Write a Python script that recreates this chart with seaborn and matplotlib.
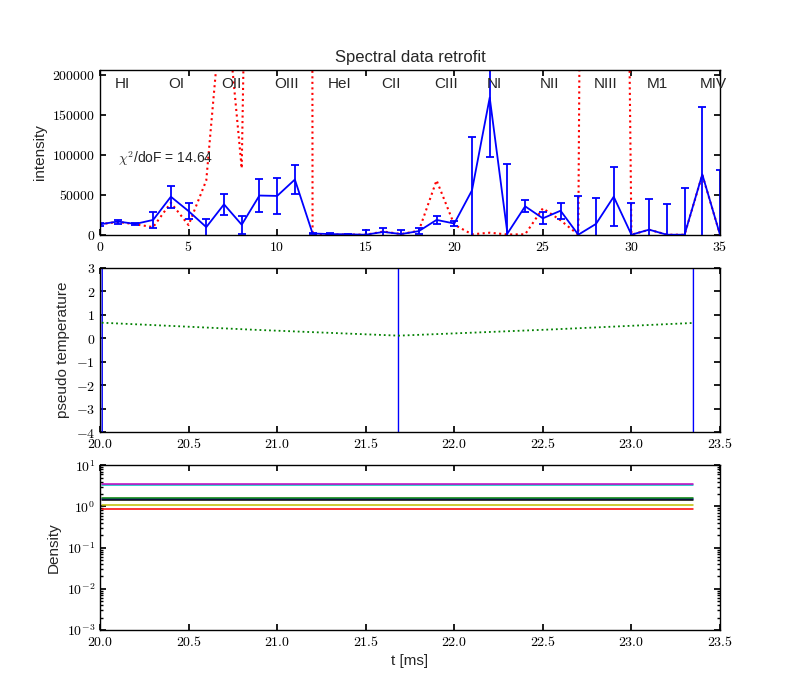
import numpy as np
import pandas as pd
import seaborn as sns
import matplotlib
matplotlib.use("Agg")
import matplotlib.pyplot as plt
from matplotlib.ticker import FuncFormatter, FixedLocator, LogLocator

# ---------------- data ----------------
line_index = list(range(36))
measured = [13000, 16500, 13500, 18500, 47500, 29500, 9500, 38000, 12500, 49000,
            48500, 69000, 1500, 800, 500, 0, 3500, 800, 4500, 18500,
            14000, 55500, 171500, 1500, 35500, 20500, 30000, 0, 13500, 47500,
            0, 6300, 0, 0, 75500, 0]
measured_err = [2000, 2500, 1500, 9500, 14000, 10000, 10500, 13000, 11000, 21000,
                22000, 18500, 1000, 800, 600, 6000, 5000, 5000, 4000, 5000,
                3000, 67000, 74000, 87000, 7500, 7300, 10000, 49000, 33000, 37000,
                40000, 38000, 38000, 59000, 84000, 81000]
model = [13000, 16000, 13000, 9500, 40000, 12000, 68000, 320000, 83000, 1.4e6,
         5e6, 2e7, 0, 300, 200, 0, 4000, 800, 5000, 68000,
         12500, 500, 2500, 300, 500, 33000, 18000, 0, 3.4e6, 2e6,
         0, 6300, 0, 0, 75000, 0]
ion_labels = ["HI", "OI", "OII", "OIII", "HeI", "CII", "CIII", "NI", "NII", "NIII", "M1", "MIV"]
ion_pos = [1, 4, 7, 10, 13, 16, 19, 22, 25, 28, 31, 34]
chi2_dof = 14.64

# pseudo temperature
t_jump = [20.005, 20.02, 21.685, 21.685, 23.35, 23.35]
T_jump = [-1e4, 1e4, 1e4, -1e4, -1e4, 1e4]
t_smooth = [20.01, 20.87, 21.685, 22.54, 23.35]
T_smooth = [0.66, 0.36, 0.11, 0.37, 0.65]

# densities
t_dens = [20.01, 21.685, 23.35]
dens_b = [1.48, 1.48, 1.48]
dens_g = [1.58, 1.58, 1.58]
dens_r = [0.87, 0.87, 0.87]
dens_c = [3.36, 3.36, 3.36]
dens_m = [3.52, 3.52, 3.52]
dens_y = [1.08, 1.08, 1.08]
dens_k = [1.40, 1.40, 1.40]

# ---------------- style ----------------
sns.set_theme(style="ticks", color_codes=False, rc={
    "axes.linewidth": 1.0,
    "axes.edgecolor": "black",
    "xtick.direction": "in", "ytick.direction": "in",
    "xtick.top": True, "ytick.right": True,
    "xtick.major.size": 4, "ytick.major.size": 4,
    "xtick.minor.size": 2, "ytick.minor.size": 2,
    "xtick.color": "black", "ytick.color": "black",
    "mathtext.fontset": "cm",
})
plt.rcParams["font.family"] = ["Liberation Sans", "DejaVu Sans"]

BLUE = (0, 0, 1)
GREEN = (0, 0.5, 0)
RED = (1, 0, 0)
CYAN = (0, 0.75, 0.75)
MAGENTA = (0.75, 0, 0.75)
YELLOW = (0.75, 0.75, 0)
BLACK = (0, 0, 0)

fig, axes = plt.subplots(3, 1, figsize=(8, 7), dpi=100)
ax1, ax2, ax3 = axes

def mt(fmt):
    return FuncFormatter(lambda v, p: "$" + fmt.format(v) + "$")

# ---------------- panel 1 ----------------
df1 = pd.DataFrame({"line": line_index, "measured": measured, "model": model})
sns.lineplot(data=df1, x="line", y="model", ax=ax1, color=RED,
             linestyle=":", linewidth=1.5, estimator=None)
sns.lineplot(data=df1, x="line", y="measured", ax=ax1, color=BLUE,
             linewidth=1.3, estimator=None)
ax1.errorbar(line_index, measured, yerr=measured_err, fmt="none", ecolor=BLUE,
             elinewidth=1.3, capsize=3, capthick=1.3)
ax1.set_xlim(0, 35)
ax1.set_ylim(0, 206000)
ax1.xaxis.set_major_locator(FixedLocator([0, 5, 10, 15, 20, 25, 30, 35]))
ax1.yaxis.set_major_locator(FixedLocator([0, 50000, 100000, 150000, 200000]))
ax1.xaxis.set_major_formatter(mt("{:g}"))
ax1.yaxis.set_major_formatter(mt("{:.0f}"))
for lab, pos in zip(ion_labels, ion_pos):
    ax1.text(pos - 0.15, 188000, lab, ha="left", va="center", fontsize=11)
ax1.text(1, 95000, r"$\chi^2$/doF = %.2f" % chi2_dof, ha="left", va="center", fontsize=10)
ax1.set_title("Spectral data retrofit", fontsize=12)
ax1.set_ylabel("intensity", fontsize=11)
ax1.set_xlabel("")

# ---------------- panel 2 ----------------
df2a = pd.DataFrame({"t": t_jump, "T": T_jump})
df2b = pd.DataFrame({"t": t_smooth, "T": T_smooth})
sns.lineplot(data=df2a, x="t", y="T", ax=ax2, color=BLUE, linewidth=1.0,
             sort=False, estimator=None)
sns.lineplot(data=df2b, x="t", y="T", ax=ax2, color=GREEN, linestyle=":",
             linewidth=1.3, estimator=None)
ax2.set_xlim(20, 23.5)
ax2.set_ylim(-4, 3)
ax2.xaxis.set_major_locator(FixedLocator([20, 20.5, 21, 21.5, 22, 22.5, 23, 23.5]))
ax2.yaxis.set_major_locator(FixedLocator([-4, -3, -2, -1, 0, 1, 2, 3]))
ax2.xaxis.set_major_formatter(mt("{:.1f}"))
ax2.yaxis.set_major_formatter(mt("{:.0f}"))
ax2.set_ylabel("pseudo temperature", fontsize=11)
ax2.set_xlabel("")

# ---------------- panel 3 ----------------
for vals, col in [(dens_b, BLUE), (dens_g, GREEN), (dens_r, RED), (dens_c, CYAN),
                  (dens_m, MAGENTA), (dens_y, YELLOW), (dens_k, BLACK)]:
    sns.lineplot(x=t_dens, y=vals, ax=ax3, color=col, linewidth=1.1, estimator=None)
ax3.set_yscale("log")
ax3.set_xlim(20, 23.5)
ax3.set_ylim(1e-3, 1e1)
ax3.xaxis.set_major_locator(FixedLocator([20, 20.5, 21, 21.5, 22, 22.5, 23, 23.5]))
ax3.xaxis.set_major_formatter(mt("{:.1f}"))
ax3.yaxis.set_major_locator(LogLocator(base=10, numticks=10))
ax3.yaxis.set_minor_locator(LogLocator(base=10, subs=np.arange(2, 10), numticks=20))
ax3.yaxis.set_major_formatter(FuncFormatter(
    lambda v, p: "$10^{%d}$" % int(round(np.log10(v))) if v > 0 else ""))
ax3.set_ylabel("Density", fontsize=11)
ax3.set_xlabel("t [ms]", fontsize=11)

for ax in axes:
    ax.tick_params(which="both", direction="in", top=True, right=True, labelsize=10)

fig.subplots_adjust(left=0.125, right=0.9, bottom=0.1, top=0.9, hspace=0.2)
fig.savefig("out.png", dpi=100)
